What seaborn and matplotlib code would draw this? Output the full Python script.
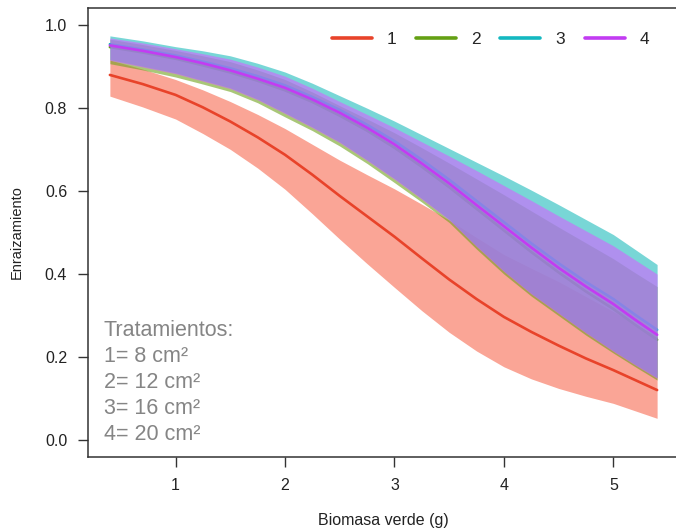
import numpy as np
import pandas as pd
import matplotlib
matplotlib.use("Agg")
import matplotlib.pyplot as plt
import seaborn as sns

# ---- data ----
x_vals = [0.4, 0.7, 1.0, 1.25, 1.5, 1.75, 2.0, 2.25, 2.5, 2.75, 3.0,
          3.25, 3.5, 3.75, 4.0, 4.25, 4.5, 4.75, 5.0, 5.2, 5.4]
groups = ["1", "2", "3", "4"]

mean_1 = [0.879, 0.857, 0.831, 0.801, 0.767, 0.729, 0.687, 0.639, 0.588, 0.539, 0.490,
          0.438, 0.387, 0.340, 0.297, 0.261, 0.228, 0.197, 0.169, 0.145, 0.121]
low_1  = [0.828, 0.802, 0.773, 0.738, 0.700, 0.655, 0.604, 0.545, 0.484, 0.425, 0.368,
          0.312, 0.260, 0.215, 0.177, 0.148, 0.125, 0.106, 0.089, 0.071, 0.053]
high_1 = [0.915, 0.893, 0.868, 0.843, 0.815, 0.784, 0.750, 0.712, 0.674, 0.639, 0.605,
          0.568, 0.530, 0.488, 0.447, 0.414, 0.382, 0.346, 0.310, 0.280, 0.250]

mean_2 = [0.946, 0.933, 0.918, 0.902, 0.885, 0.865, 0.842, 0.814, 0.781, 0.745, 0.704,
          0.658, 0.609, 0.557, 0.505, 0.453, 0.404, 0.358, 0.316, 0.278, 0.242]
low_2  = [0.906, 0.891, 0.874, 0.857, 0.839, 0.812, 0.778, 0.745, 0.708, 0.666, 0.620,
          0.573, 0.524, 0.460, 0.400, 0.347, 0.300, 0.253, 0.210, 0.177, 0.145]
high_2 = [0.965, 0.952, 0.938, 0.925, 0.911, 0.891, 0.868, 0.838, 0.805, 0.773, 0.740,
          0.704, 0.667, 0.629, 0.591, 0.552, 0.513, 0.475, 0.437, 0.403, 0.370]

mean_3 = [0.953, 0.940, 0.926, 0.911, 0.895, 0.876, 0.854, 0.826, 0.795, 0.759, 0.720,
          0.675, 0.627, 0.576, 0.525, 0.474, 0.426, 0.381, 0.340, 0.302, 0.266]
low_3  = [0.916, 0.900, 0.884, 0.866, 0.848, 0.821, 0.788, 0.754, 0.718, 0.675, 0.630,
          0.582, 0.532, 0.468, 0.408, 0.354, 0.307, 0.260, 0.216, 0.183, 0.151]
high_3 = [0.973, 0.961, 0.947, 0.937, 0.925, 0.907, 0.886, 0.859, 0.829, 0.799, 0.768,
          0.735, 0.702, 0.669, 0.636, 0.602, 0.567, 0.531, 0.495, 0.459, 0.423]

mean_4 = [0.950, 0.937, 0.922, 0.907, 0.890, 0.870, 0.848, 0.820, 0.788, 0.752, 0.712,
          0.666, 0.618, 0.566, 0.515, 0.464, 0.415, 0.370, 0.328, 0.290, 0.254]
low_4  = [0.914, 0.898, 0.882, 0.864, 0.846, 0.819, 0.786, 0.752, 0.716, 0.673, 0.628,
          0.580, 0.530, 0.466, 0.406, 0.352, 0.305, 0.258, 0.214, 0.181, 0.149]
high_4 = [0.968, 0.956, 0.942, 0.930, 0.917, 0.898, 0.876, 0.847, 0.815, 0.784, 0.752,
          0.718, 0.684, 0.649, 0.613, 0.577, 0.540, 0.504, 0.468, 0.434, 0.400]

y_ticks = [0.0, 0.2, 0.4, 0.6, 0.8, 1.0]
x_ticks = [1, 2, 3, 4, 5]
note_lines = ["Tratamientos:", "1= 8 cm\u00b2", "2= 12 cm\u00b2", "3= 16 cm\u00b2", "4= 20 cm\u00b2"]
note_y = [0.25, 0.1875, 0.125, 0.0625, 0.0]

means = [mean_1, mean_2, mean_3, mean_4]
lows = [low_1, low_2, low_3, low_4]
highs = [high_1, high_2, high_3, high_4]

frames = []
for g, m, lo, hi in zip(groups, means, lows, highs):
    frames.append(pd.DataFrame({"x": x_vals, "grupo": g, "mean": m, "lo": lo, "hi": hi}))
df = pd.concat(frames, ignore_index=True)

band_colors = ["#F76950", "#71A31E", "#1EBCBC", "#D462FF"]
line_colors = ["#E8432A", "#64A014", "#14B8C0", "#C23CF2"]

sns.set_style("ticks")
plt.rcParams["font.family"] = ["Liberation Sans", "DejaVu Sans"]

fig = plt.figure(figsize=(6.76, 5.31), dpi=100)
ax = fig.add_axes([88 / 676, 1 - 457 / 531, (679 - 88) / 676, (457 - 8) / 531])

z = 2
for g, bc, lc in zip(groups, band_colors, line_colors):
    d = df[df["grupo"] == g]
    ax.fill_between(d["x"], d["lo"], d["hi"], color=bc, alpha=0.6, lw=0, zorder=z)
    sns.lineplot(data=d, x="x", y="mean", color=lc, lw=1.9, ax=ax, label=g,
                 zorder=z + 1, estimator=None, sort=True)
    z += 2

ax.set_xlim(0.2, 5.6)
ax.set_ylim(-0.04, 1.04)
ax.set_xticks(x_ticks)
ax.set_xticklabels([str(t) for t in x_ticks])
ax.set_yticks(y_ticks)
ax.set_yticklabels([f"{t:.1f}" for t in y_ticks])
ax.tick_params(direction="out", length=7, width=1, color="#333333",
               labelsize=11.5, labelcolor="#222222", pad=8)
for s in ax.spines.values():
    s.set_visible(True)
    s.set_color("#333333")
    s.set_linewidth(1.1)

ax.set_xlabel("Biomasa verde (g)", fontsize=11.5, color="#222222")
ax.set_ylabel("Enraizamiento", fontsize=10.5, color="#222222")
ax.xaxis.set_label_coords(0.5, -0.125)
ax.yaxis.set_label_coords(-0.108, 0.5)

for txt, yy in zip(note_lines, note_y):
    ax.text(0.342, yy, txt, fontsize=15.5, color="#858585", ha="left", va="baseline", zorder=20)

leg = ax.legend(ncol=4, frameon=False, loc="center left",
                bbox_to_anchor=(0.386, 0.929), fontsize=12.5,
                handlelength=2.3, handletextpad=0.85, columnspacing=1.15,
                borderpad=0.4)
for h in leg.get_lines():
    h.set_linewidth(2.6)

fig.savefig("out.png", dpi=100)
